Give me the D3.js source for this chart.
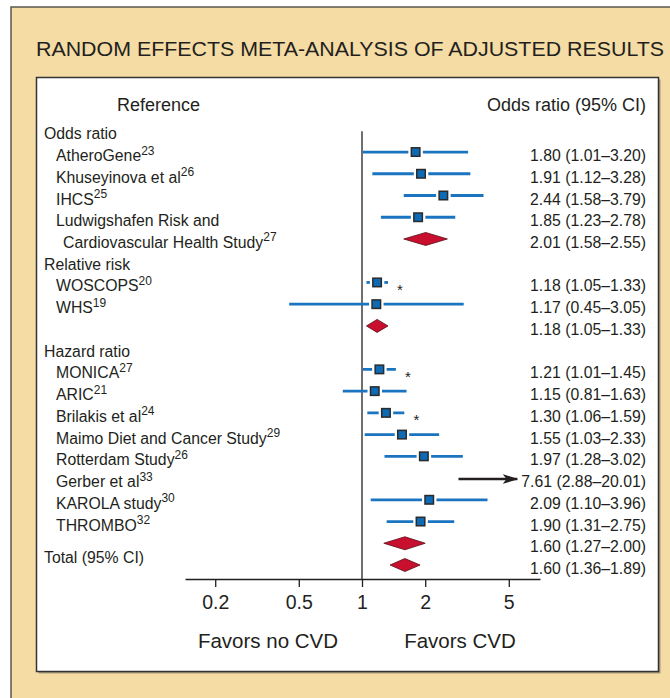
<!DOCTYPE html>
<html>
<head>
<meta charset="utf-8">
<script src="https://cdn.jsdelivr.net/npm/d3@7.9.0/dist/d3.min.js"></script>
<style>
  body { margin: 0; background: #fff; }
  svg text { font-family: 'Liberation Sans', Arial, Helvetica, sans-serif; fill: #231f20; }
</style>
</head>
<body>
<svg id="chart" width="670" height="698"></svg>
<script>
// Study rows: label, reference superscript, estimate, lower CI, upper CI
const studyLabels = ['AtheroGene', 'Khuseyinova et al', 'IHCS', 'Ludwigshafen Risk and',
  'WOSCOPS', 'WHS',
  'MONICA', 'ARIC', 'Brilakis et al', 'Maimo Diet and Cancer Study', 'Rotterdam Study',
  'Gerber et al', 'KAROLA study', 'THROMBO'];
const studyRefs = ['23', '26', '25', '', '20', '19', '27', '21', '24', '29', '26', '33', '30', '32'];
const studyEst = [1.80, 1.91, 2.44, 1.85, 1.18, 1.17, 1.21, 1.15, 1.30, 1.55, 1.97, 7.61, 2.09, 1.90];
const studyLow = [1.01, 1.12, 1.58, 1.23, 1.05, 0.45, 1.01, 0.81, 1.06, 1.03, 1.28, 2.88, 1.10, 1.31];
const studyHigh = [3.20, 3.28, 3.79, 2.78, 1.33, 3.05, 1.45, 1.63, 1.59, 2.33, 3.02, 20.01, 3.96, 2.75];
const studyStar = ['WOSCOPS', 'MONICA', 'Brilakis et al'];

// Pooled (diamond) rows
const pooledIds = ['OR pooled', 'RR pooled', 'HR pooled', 'Total'];
const pooledEst = [2.01, 1.18, 1.60, 1.60];
const pooledLow = [1.58, 1.05, 1.27, 1.36];
const pooledHigh = [2.55, 1.33, 2.00, 1.89];

// Group headings
const groupHeads = ['Odds ratio', 'Relative risk', 'Hazard ratio'];

// Row order, top to bottom
const rowOrder = ['Odds ratio', 'AtheroGene', 'Khuseyinova et al', 'IHCS', 'Ludwigshafen Risk and', 'OR pooled',
  'Relative risk', 'WOSCOPS', 'WHS', 'RR pooled',
  'Hazard ratio', 'MONICA', 'ARIC', 'Brilakis et al', 'Maimo Diet and Cancer Study', 'Rotterdam Study',
  'Gerber et al', 'KAROLA study', 'THROMBO', 'HR pooled', 'Total'];

const axisTicks = [0.2, 0.5, 1, 2, 5];

const studies = studyLabels.map((label, i) => ({
  label, ref: studyRefs[i], est: studyEst[i], lo: studyLow[i], hi: studyHigh[i],
  star: studyStar.includes(label)
}));
const pooled = pooledIds.map((id, i) => ({ id, est: pooledEst[i], lo: pooledLow[i], hi: pooledHigh[i] }));

const fmt = d3.format('.2f');
const ciText = d => `${fmt(d.est)} (${fmt(d.lo)}\u2013${fmt(d.hi)})`;

const svg = d3.select('#chart');

// Frames
svg.append('rect')
  .attr('x', 11).attr('y', 7).attr('width', 680).attr('height', 720)
  .attr('fill', '#f4dca4').attr('stroke', '#5b5650').attr('stroke-width', 1.5);

svg.append('text')
  .attr('x', 36).attr('y', 56)
  .attr('font-size', 21)
  .attr('textLength', 628).attr('lengthAdjust', 'spacingAndGlyphs')
  .text('RANDOM EFFECTS META-ANALYSIS OF ADJUSTED RESULTS');

svg.append('rect')
  .attr('x', 37.5).attr('y', 78.5).attr('width', 622).attr('height', 594)
  .attr('fill', '#a89a7c').attr('transform', 'translate(1,1)');
svg.append('rect')
  .attr('x', 36.5).attr('y', 77.5).attr('width', 622).attr('height', 594)
  .attr('fill', '#fff').attr('stroke', '#333').attr('stroke-width', 1.5);

// Column headers
svg.append('text').attr('x', 117).attr('y', 111).attr('font-size', 18).text('Reference');
svg.append('text').attr('x', 646).attr('y', 111).attr('font-size', 18)
  .attr('text-anchor', 'end').text('Odds ratio (95% CI)');

// Scales
const x = d3.scaleLog().domain([0.1436, 7.04]).range([185, 540]);
const y = d3.scalePoint().domain(rowOrder).range([130.3, 565]);
const axisY = 579;
const textRight = 646;

// Axis
const axis = svg.append('g')
  .attr('transform', `translate(0,${axisY})`)
  .call(d3.axisBottom(x).tickValues(axisTicks).tickSize(8).tickSizeOuter(0).tickPadding(8)
    .tickFormat(d3.format('')));
axis.select('.domain').attr('stroke', '#231f20').attr('stroke-width', 1.3);
axis.selectAll('.tick line').attr('stroke', '#231f20').attr('stroke-width', 1.3);
axis.selectAll('.tick text')
  .attr('font-family', "'Liberation Sans', Arial, sans-serif")
  .attr('font-size', 19.5).attr('fill', '#231f20');

// No-effect line
svg.append('line')
  .attr('x1', x(1)).attr('x2', x(1))
  .attr('y1', y('Odds ratio') + 1).attr('y2', axisY)
  .attr('stroke', '#231f20').attr('stroke-width', 1.3);

// Favors labels
svg.append('text').attr('x', 268).attr('y', 648).attr('font-size', 20.5)
  .attr('text-anchor', 'middle').text('Favors no CVD');
svg.append('text').attr('x', 460).attr('y', 648).attr('font-size', 20.5)
  .attr('text-anchor', 'middle').text('Favors CVD');

// Left labels
svg.selectAll('.group-head')
  .data(groupHeads)
  .join('text')
  .attr('class', 'group-head')
  .attr('x', 44).attr('y', d => y(d) + 9)
  .attr('font-size', 15.8)
  .text(d => d);

const studyText = svg.selectAll('.study-label')
  .data(studies)
  .join('text')
  .attr('class', 'study-label')
  .attr('x', 56).attr('y', d => y(d.label) + 9)
  .attr('font-size', 15.8);
studyText.append('tspan').text(d => d.label);
studyText.filter(d => d.ref).append('tspan')
  .attr('dy', -6.5).attr('font-size', 12).text(d => d.ref);

const contText = svg.append('text')
  .attr('x', 63).attr('y', y('OR pooled') + 9).attr('font-size', 15.8);
contText.append('tspan').text('Cardiovascular Health Study');
contText.append('tspan').attr('dy', -6.5).attr('font-size', 12).text('27');

svg.append('text')
  .attr('x', 44).attr('y', y('Total') - 2).attr('font-size', 15.8)
  .text('Total (95% CI)');

// Right-hand estimates
svg.selectAll('.ci-text')
  .data([...studies.map(d => ({ key: d.label, d })), ...pooled.map(d => ({ key: d.id, d }))])
  .join('text')
  .attr('class', 'ci-text')
  .attr('x', textRight).attr('y', d => y(d.key) + 9)
  .attr('text-anchor', 'end').attr('font-size', 15.8)
  .text(d => ciText(d.d));

// Study markers (on-scale)
const onScale = studies.filter(d => d.hi <= x.domain()[1]);
const offScale = studies.filter(d => d.hi > x.domain()[1]);

const marks = svg.selectAll('.study-mark')
  .data(onScale)
  .join('g')
  .attr('class', 'study-mark');

marks.append('line')
  .attr('x1', d => x(d.lo)).attr('x2', d => x(d.hi))
  .attr('y1', d => y(d.label)).attr('y2', d => y(d.label))
  .attr('stroke', '#1b74c0').attr('stroke-width', 2.8);

const sq = 8.5;
marks.append('rect')
  .attr('x', d => x(d.est) - sq / 2 - 3).attr('y', d => y(d.label) - sq / 2 - 3)
  .attr('width', sq + 6).attr('height', sq + 6)
  .attr('fill', '#fff');
marks.append('rect')
  .attr('x', d => x(d.est) - sq / 2).attr('y', d => y(d.label) - sq / 2)
  .attr('width', sq).attr('height', sq)
  .attr('fill', '#0d6bb6').attr('stroke', '#2a2a2a').attr('stroke-width', 1.5);

marks.filter(d => d.star).append('text')
  .attr('x', d => x(d.hi) + 12).attr('y', d => y(d.label) + 12.5)
  .attr('text-anchor', 'middle').attr('font-size', 15)
  .text('*');

// Off-scale study: arrow from lower CI towards its label
svg.append('defs').append('marker')
  .attr('id', 'arrowhead')
  .attr('viewBox', '0 0 16 10').attr('refX', 15).attr('refY', 5)
  .attr('markerWidth', 6.5).attr('markerHeight', 4.2).attr('orient', 'auto')
  .attr('markerUnits', 'strokeWidth')
  .append('path').attr('d', 'M0,0 L16,5 L0,10 L4,5 Z').attr('fill', '#231f20');

svg.selectAll('.ci-text').filter(d => offScale.some(s => s.label === d.key)).each(function (d) {
  const textStart = textRight - this.getComputedTextLength();
  const s = offScale.find(o => o.label === d.key);
  svg.append('line')
    .attr('x1', x(s.lo)).attr('x2', textStart - 4)
    .attr('y1', y(s.label) + 1).attr('y2', y(s.label) + 1)
    .attr('stroke', '#231f20').attr('stroke-width', 2.4)
    .attr('marker-end', 'url(#arrowhead)');
});

// Pooled diamonds
svg.selectAll('.pooled')
  .data(pooled)
  .join('path')
  .attr('class', 'pooled')
  .attr('d', d => {
    const cy = y(d.id);
    return `M${x(d.lo)},${cy} L${x(d.est)},${cy - 6.5} L${x(d.hi)},${cy} L${x(d.est)},${cy + 6.5} Z`;
  })
  .attr('fill', '#c8102e').attr('stroke', '#5a0a14').attr('stroke-width', 0.8);
</script>
</body>
</html>
